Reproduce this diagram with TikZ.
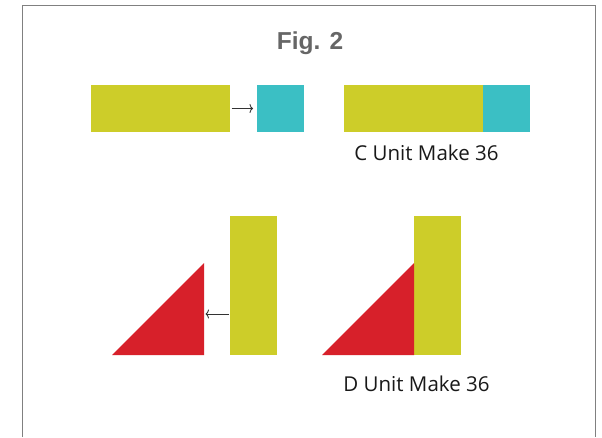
\documentclass[tikz,border=0pt]{standalone}
\usepackage{fontspec}
\setmainfont{Open Sans}
\newfontfamily\titlefont{Liberation Sans}
\usetikzlibrary{positioning,arrows.meta}
\definecolor{unityellow}{RGB}{205,205,41}
\definecolor{unitcyan}{RGB}{59,191,196}
\definecolor{unitred}{RGB}{215,32,42}
\definecolor{framegray}{RGB}{128,128,128}
\definecolor{titlegray}{RGB}{102,102,102}
\tikzset{
  bar/.style={inner sep=0pt,outer sep=0pt,draw=none,anchor=north west},
  hbar/.style={bar,minimum width=139pt,minimum height=47pt},
  vbar/.style={bar,minimum width=47pt,minimum height=139pt},
  sqbar/.style={bar,minimum width=47pt,minimum height=47pt},
  unitlabel/.style={anchor=base,font=\fontsize{20.5}{24}\selectfont,text=black!90},
  unitarrow/.style={-{To[length=3.5pt,width=9pt]},color=black!80,line width=0.9pt}
}
\begin{document}
\begin{tikzpicture}[scale=1.000000,x=1pt,y=1pt]
\useasboundingbox (0.000000,0.000000) rectangle (602.000000,437.000000);
\fill[color=white] (0.000000,0.000000) rectangle (602.000000,437.000000);
% Drawing frame (open at the bottom)
\draw[color=framegray,line width=1.3pt] (22.700000,0.000000) -- (22.700000,431.300000) -- (595.700000,431.300000) -- (595.700000,0.000000);
% Title
\node[anchor=base,font=\titlefont\bfseries\fontsize{24.5}{28}\selectfont,text=titlegray] (title) at (310.000000,387.000000) {Fig. 2};
% Drawing C unit: bar and square apart
\node[hbar,fill=unityellow] (cyellowa) at (91.000000,352.000000) {};
\node[sqbar,fill=unitcyan] (ccyana) at (256.500000,352.000000) {};
\draw[unitarrow,shorten <=1.5pt,shorten >=3.5pt] (cyellowa.east) -- (ccyana.west);
% C unit: bar and square joined
\node[hbar,fill=unityellow] (cyellowb) at (344.000000,352.000000) {};
\node[sqbar,fill=unitcyan,right=0pt of cyellowb] (ccyanb) {};
\node[unitlabel] (clabel) at (426.500000,276.000000) {C Unit Make 36};
% Drawing D unit: triangle and bar apart
\node[vbar,fill=unityellow] (dyellowa) at (230.000000,221.000000) {};
\fill[color=unitred] (112.000000,82.000000) -- (204.000000,82.000000) -- (204.000000,174.000000) -- cycle;
\coordinate (dtip) at (205.500000,123.000000);
\draw[unitarrow,shorten <=1pt] (dyellowa.west |- dtip) -- (dtip);
% D unit: triangle and bar joined
\node[vbar,fill=unityellow] (dyellowb) at (414.000000,221.000000) {};
\fill[color=unitred] (dyellowb.south west) -- ++(-92.000000,0.000000) -- ++(92.000000,92.000000) -- cycle;
\node[unitlabel] (dlabel) at (416.500000,46.000000) {D Unit Make 36};
\end{tikzpicture}
\end{document}
